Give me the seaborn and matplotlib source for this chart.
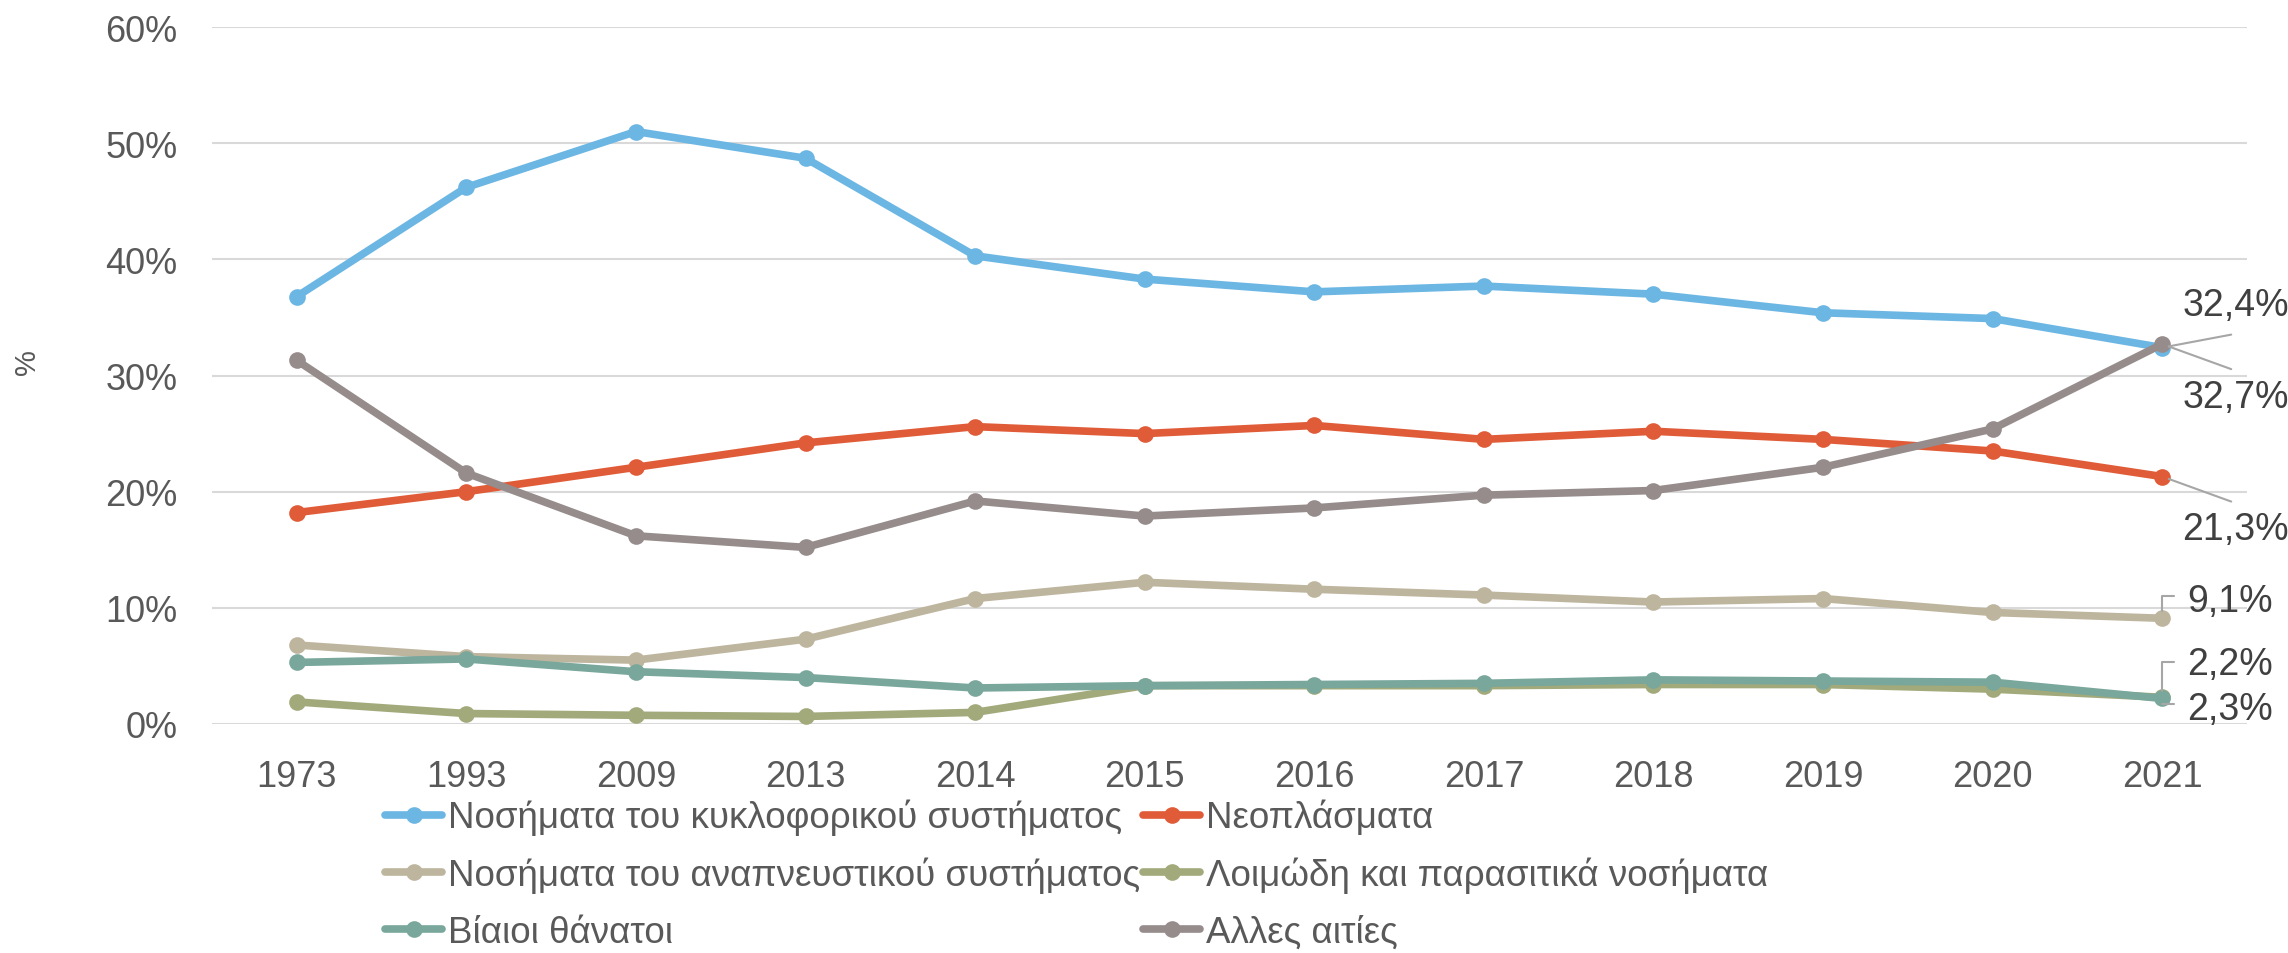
import pandas as pd
import numpy as np
import matplotlib
matplotlib.use("Agg")
import matplotlib.pyplot as plt
from matplotlib.lines import Line2D
import seaborn as sns

# data (% of deaths)
years = ["1973", "1993", "2009", "2013", "2014", "2015", "2016", "2017", "2018", "2019", "2020", "2021"]
circulatory = [36.8, 46.2, 51.0, 48.7, 40.3, 38.3, 37.2, 37.7, 37.0, 35.4, 34.9, 32.4]
neoplasms = [18.2, 20.0, 22.1, 24.2, 25.6, 25.0, 25.7, 24.5, 25.2, 24.5, 23.5, 21.3]
respiratory = [6.8, 5.8, 5.5, 7.3, 10.8, 12.2, 11.6, 11.1, 10.5, 10.8, 9.6, 9.1]
infectious = [1.9, 0.9, 0.75, 0.65, 1.0, 3.3, 3.3, 3.3, 3.4, 3.4, 3.0, 2.3]
violent = [5.3, 5.6, 4.5, 4.0, 3.1, 3.3, 3.4, 3.5, 3.8, 3.7, 3.6, 2.2]
other = [31.3, 21.6, 16.2, 15.2, 19.2, 17.9, 18.6, 19.7, 20.1, 22.1, 25.4, 32.7]

names = ["Νοσήματα του κυκλοφορικού συστήματος", "Νεοπλάσματα",
         "Νοσήματα του αναπνευστικού συστήματος", "Λοιμώδη και παρασιτικά νοσήματα",
         "Βίαιοι θάνατοι", "Αλλες αιτίες"]
series = [circulatory, neoplasms, respiratory, infectious, violent, other]
colors = ["#6CB6E3", "#E05C38", "#BEB59E", "#A2AA7B", "#79A79B", "#968C8C"]

df = pd.concat([pd.DataFrame({"year": years, "value": s, "cause": n}) for n, s in zip(names, series)])

sns.set_style("white")
plt.rcParams["font.family"] = ["Liberation Sans", "DejaVu Sans"]

fig = plt.figure(figsize=(22.88, 9.54), dpi=100)
ax = fig.add_axes([212 / 2288, 1 - 725 / 954, (2247 - 212) / 2288, (725 - 28) / 954])

lw = 5.5
ms = 12
palette = dict(zip(names, colors))
sns.lineplot(data=df, x="year", y="value", hue="cause", palette=palette, sort=False,
             marker="o", markersize=ms, markeredgewidth=0, linewidth=lw, ax=ax, legend=False)

ax.set_ylim(0, 60)
ax.set_xlim(-0.5, len(years) - 0.5)
ax.set_yticks(range(0, 61, 10))
ax.set_yticklabels([f"{t}%" for t in range(0, 61, 10)])
ax.yaxis.grid(True, color="#D9D9D9", linewidth=1.5)
ax.set_axisbelow(True)
for s in ax.spines.values():
    s.set_visible(False)
ax.tick_params(axis="both", length=0, labelsize=26, labelcolor="#595959")
ax.tick_params(axis="y", pad=25)
ax.tick_params(axis="x", pad=25)
ax.set_xlabel("")
ax.set_ylabel("")
fig.text(27 / 2288, 1 - 362 / 954, "%", rotation=90, ha="center", va="center",
         fontsize=21, color="#595959")

# end-of-line labels for 2021
x_end = ax.xaxis.convert_units(years[-1])
lead = "#A6A6A6"
label_txt = "#404040"
ends = [
    (circulatory[-1], (20, 43), "straight", (69, 13)),
    (other[-1], (20, -53), "straight", (69, -25)),
    (neoplasms[-1], (20, -52), "straight", (69, -25)),
    (respiratory[-1], (25, 17), "bracket", (12, 22)),
    (violent[-1], (25, 34), "bracket", (12, 36)),
    (infectious[-1], (25, -12), "bracket", (12, -7)),
]
for val, toff, kind, loff in ends:
    if kind == "straight":
        cs = "arc3"
    else:
        cs = "angle,angleA=0,angleB=90,rad=0"
    ax.annotate("", xy=(x_end, val), xytext=loff, textcoords="offset pixels",
                arrowprops=dict(arrowstyle="-", color=lead, lw=1.5, shrinkA=0, shrinkB=5,
                                connectionstyle=cs), annotation_clip=False)
    ax.annotate(f"{val:.1f}".replace(".", ",") + "%", xy=(x_end, val), xytext=toff,
                textcoords="offset pixels", ha="left", va="center", fontsize=27,
                color=label_txt, annotation_clip=False)

# legend: 3 rows x 2 columns, filled column-wise
order = [0, 2, 4, 1, 3, 5]
handles = [Line2D([], [], color=colors[i], lw=lw, marker="o", markersize=ms, markeredgewidth=0)
           for i in order]
fig.legend(handles, [names[i] for i in order], loc="upper left",
           bbox_to_anchor=(385 / 2288, 1 - 800 / 954), ncol=2, frameon=False,
           borderpad=0, borderaxespad=0, handlelength=1.55, handletextpad=0.15,
           columnspacing=0.1, labelspacing=0.58, fontsize=26.5, labelcolor="#595959")

fig.savefig("out.png", dpi=100)
